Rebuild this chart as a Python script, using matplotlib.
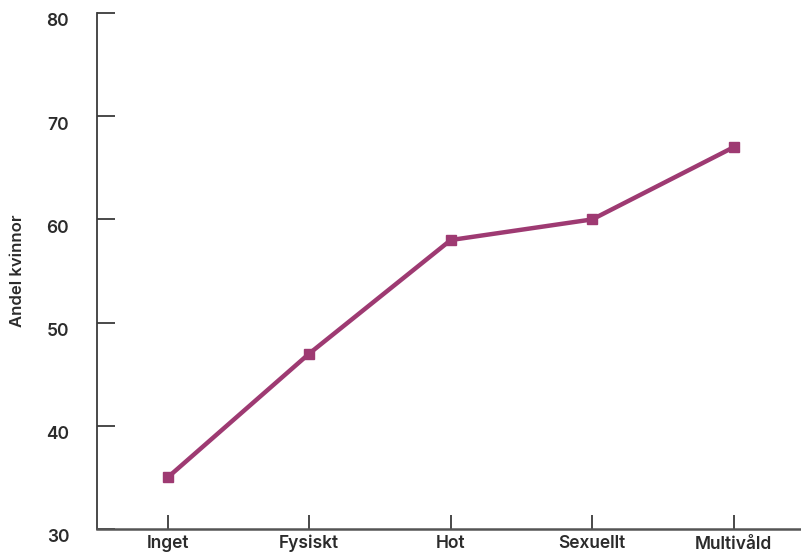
import matplotlib.pyplot as plt
import matplotlib.transforms as mtransforms

categories = ['Inget', 'Fysiskt', 'Hot', 'Sexuellt', 'Multivåld']
andel_kvinnor = [35, 47, 58, 60, 67]
y_ticks = [30, 40, 50, 60, 70, 80]

LINE_COLOR = '#9e3a72'
AXIS_COLOR = '#3a3a3a'
TEXT_COLOR = '#2b2b2b'

plt.rcParams['font.family'] = ['Inter', 'DejaVu Sans']

fig = plt.figure(figsize=(8.01, 5.54), dpi=100)
ax = fig.add_axes([97 / 801, 25 / 554, 707.5 / 801, 516 / 554])

x = list(range(len(categories)))
ax.plot(x, andel_kvinnor, color=LINE_COLOR, linewidth=3.2, marker='s',
        markersize=6.5, markerfacecolor=LINE_COLOR, markeredgecolor=LINE_COLOR)

ax.set_xlim(-0.5, 4.5)
ax.set_ylim(30, 80)
ax.set_xticks(x)
ax.set_xticklabels(categories)
ax.set_yticks(y_ticks)

for side in ['top', 'right']:
    ax.spines[side].set_visible(False)
ax.spines['left'].set_color(AXIS_COLOR)
ax.spines['left'].set_linewidth(1.3)
ax.spines['bottom'].set_color('#555555')
ax.spines['bottom'].set_linewidth(1.8)

ax.tick_params(axis='y', direction='in', length=13, width=1.3, color=AXIS_COLOR,
               pad=20, labelsize=12.5, labelcolor=TEXT_COLOR)
ax.tick_params(axis='x', direction='in', length=10, width=1.3, color=AXIS_COLOR,
               pad=4, labelsize=12.5, labelcolor=TEXT_COLOR)

for lbl in ax.get_yticklabels():
    lbl.set_fontweight('semibold')
    lbl.set_transform(lbl.get_transform() + mtransforms.ScaledTranslation(0, -7 / 100, fig.dpi_scale_trans))
for lbl in ax.get_xticklabels():
    lbl.set_fontweight('semibold')
    if lbl.get_text() == 'Multivåld':
        lbl.set_transform(lbl.get_transform() + mtransforms.ScaledTranslation(0, -1 / 100, fig.dpi_scale_trans))

ax.set_ylabel('Andel kvinnor', fontsize=12, fontweight='semibold', color=TEXT_COLOR)
ax.yaxis.set_label_coords(-72 / 707.5, 0.5)

fig.savefig('out.png', dpi=100)
